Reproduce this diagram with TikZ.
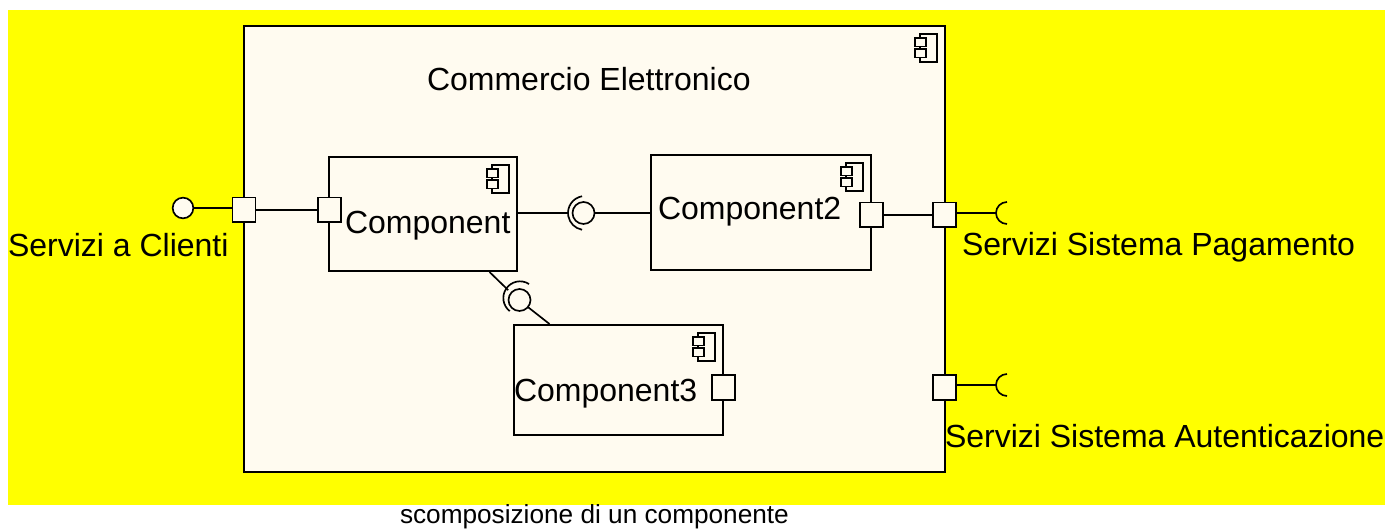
\documentclass[tikz,border=0pt]{standalone}
\usepackage{fontspec}
\setmainfont{Liberation Sans}
\definecolor{cream}{HTML}{FFFBF0}
\definecolor{bgyellow}{HTML}{FFFF00}
\tikzset{
  x=0.75pt,y=-0.75pt,
  every node/.style={inner sep=0pt,outer sep=0pt},
  umlline/.style={draw=black,line width=1.25pt},
  compbox/.style={umlline,fill=cream,rectangle},
  portbox/.style={umlline,fill=cream,rectangle,minimum width=17.25pt,minimum height=18.5pt},
  ballnode/.style={umlline,fill=cream,circle,minimum size=16.5pt},
  lollipop/.style={umlline,fill=cream,circle,minimum size=15.5pt},
  lbl/.style={anchor=base west,font=\fontsize{24}{28}\selectfont},
  captionlbl/.style={anchor=base west,font=\fontsize{19.65}{23}\selectfont},
  smallbox/.style={umlline,line width=1pt,fill=cream,rectangle,minimum width=8.25pt,minimum height=6.4pt},
}
% icon: #1 = name of box; drawn relative to its north east corner
\newcommand{\compicon}[1]{%
  \draw[umlline,line width=1pt] ([xshift=-18.75pt,yshift=-6pt]#1.north east) rectangle ([xshift=-6pt,yshift=-27pt]#1.north east);
  \node[smallbox,anchor=north west] at ([xshift=-22.5pt,yshift=-9pt]#1.north east) {};
  \node[smallbox,anchor=north west] at ([xshift=-22.5pt,yshift=-17.25pt]#1.north east) {};
}
\begin{document}
\begin{tikzpicture}
\useasboundingbox (0,0) rectangle (1385,530);
\fill[bgyellow] (8,10) rectangle (1385,505);
\node[compbox,minimum width=525.75pt,minimum height=334.5pt] (outer) at (594.5,249) {};
\compicon{outer}
\node[lbl] (t0) at (427,91) {Commercio Elettronico};

\node[compbox,minimum width=141pt,minimum height=85.5pt] (c1) at (423,214) {};
\node[compbox,minimum width=165pt,minimum height=86.25pt] (c2) at (761,212.5) {};
\node[compbox,minimum width=156.75pt,minimum height=82.5pt] (c3) at (618.5,380) {};
\compicon{c1}\compicon{c2}\compicon{c3}

\node[portbox] (pL) at (244,210) {};
\node[portbox] (p1) at (329.5,210) {};
\node[portbox] (p2) at (871.5,215) {};
\node[portbox] (pR) at (944.5,215) {};
\node[portbox] (p3) at (723.5,387.5) {};
\node[portbox] (pA) at (944.5,387.5) {};

\node[lollipop] (lol) at (183,208) {};
\draw[umlline] (lol.east) -- (pL.west |- lol.east);
\draw[umlline] (pL.east) -- (p1.west);
\draw[umlline] (p2.east) -- (pR.west);

\node[ballnode] (b1) at (583.5,213) {};
\draw[umlline,shorten >=3pt] (b1.west -| c1.east) -- (b1.west);
\draw[umlline] (b1.east) -- (b1.east -| c2.west);
\draw[umlline] (585,213) ++(100:12.75pt) arc[start angle=100,end angle=260,radius=12.75pt];

\node[ballnode] (b2) at (519.5,300) {};
\coordinate (c1j) at (489.5,272);
\coordinate (c3j) at (549.5,324);
\draw[umlline,shorten >=3pt] (c1j) -- (b2.140);
\draw[umlline] (b2.-40) -- (c3j);
\draw[umlline] (520,298) ++(57:12.5pt) arc[start angle=57,end angle=232,radius=12.5pt];

\coordinate (s1) at (1007,213);
\coordinate (s2) at (1007,385);
\draw[umlline] (pR.east |- s1) ++(-1,0) -- ++(41,0);
\draw[umlline] (s1) ++(90:8.25pt) arc[start angle=90,end angle=270,radius=8.25pt];
\draw[umlline] (pA.east |- s2) ++(-1,0) -- ++(41,0);
\draw[umlline] (s2) ++(90:8.25pt) arc[start angle=90,end angle=270,radius=8.25pt];

\node[lbl] (t1) at (345,234) {Component};
\node[lbl] (t2) at (658,220) {Component2};
\node[lbl] (t3) at (514,402) {Component3};
\node[lbl] (t4) at (8,257) {Servizi a Clienti};
\node[lbl] (t5) at (962,256) {Servizi Sistema Pagamento};
\node[lbl] (t6) at (945,448) {Servizi Sistema Autenticazione};
\node[captionlbl] (t7) at (400,524) {scomposizione di un componente};
\end{tikzpicture}
\end{document}
